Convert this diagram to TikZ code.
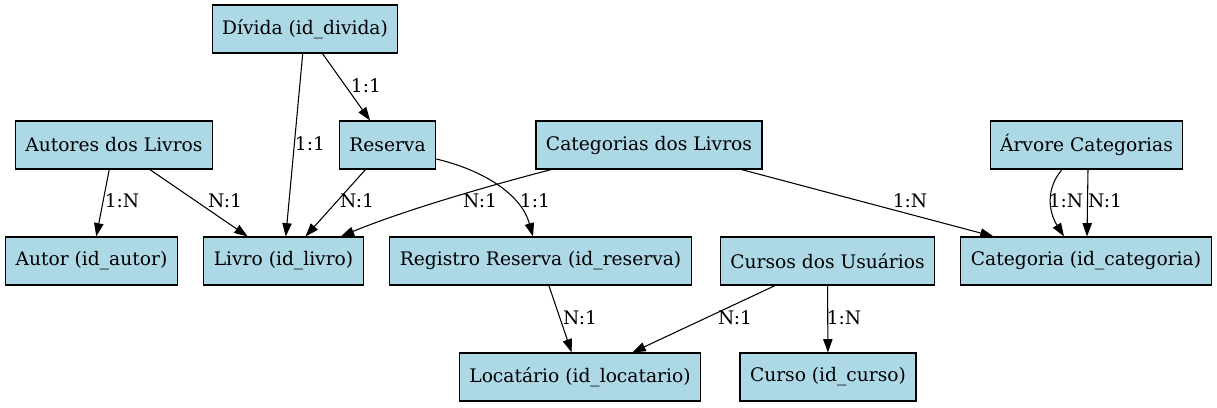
\documentclass[tikz,border=0pt]{standalone}
\usepackage{fontspec}
\setmainfont{DejaVu Serif}
\usetikzlibrary{arrows.meta,calc}
\definecolor{lightblue}{RGB}{173,216,230}
\tikzset{
  entity/.style={draw=black, line width=0.8pt, fill=lightblue, minimum height=36pt,
    inner xsep=7.5pt, inner ysep=0pt, font=\fontsize{14pt}{16pt}\selectfont},
  rel/.style={line width=0.8pt, -{Triangle[length=10pt,width=7pt]}},
  card/.style={inner sep=0.75pt, font=\fontsize{14pt}{16pt}\selectfont},
}
\begin{document}
\begin{tikzpicture}[x=0.75pt,y=0.75pt,yscale=-1]
\useasboundingbox (0,0) rectangle (1217,407);

% Entities
\node [entity] (divida) at (305,29) {Dívida (id\_divida)};
\node [entity] (autores) at (114,145) {Autores dos Livros};
\node [entity] (reserva) at (387.5,145) {Reserva};
\node [entity] (catlivros) at (649,145) {Categorias dos Livros};
\node [entity] (arvore) at (1086.5,145) {Árvore Categorias};
\node [entity] (autor) at (91.5,261) {Autor (id\_autor)};
\node [entity] (livro) at (283.5,261) {Livro (id\_livro)};
\node [entity] (registro) at (540.5,261) {Registro Reserva (id\_reserva)};
\node [entity] (cursos) at (827.5,261) {Cursos dos Usuários};
\node [entity] (categoria) at (1086,261) {Categoria (id\_categoria)};
\node [entity] (locatario) at (580,377) {Locatário (id\_locatario)};
\node [entity] (curso) at (828,377) {Curso (id\_curso)};

% Connection
\draw [rel] (divida) -- (livro);
\draw [rel] (divida) -- (reserva);
\draw [rel] (autores) -- (autor);
\draw [rel] (autores) -- (livro);
\draw [rel] (reserva) -- (livro);
\draw [rel] ($(catlivros.south west)+(16,0)$) .. controls (480,188) and (400,212) .. ($(livro.north east)+(-23,0)$);
\draw [rel] ($(reserva.east)+(0,14)$) .. controls (475,168) and (520,190) .. ($(registro.north)+(-7.5,0)$);
\draw [rel] (catlivros) -- (categoria);
\draw [rel] ($(arvore.south)+(-24.5,0)$) .. controls +(-17,20) and +(-15,-24) .. ($(categoria.north)+(-22,0)$);
\draw [rel] ($(arvore.south)+(1.5,0)$) -- ($(categoria.north)+(1,0)$);
\draw [rel] (registro) -- (locatario);
\draw [rel] (cursos) -- (locatario);
\draw [rel] (cursos) -- (curso);

% Text Node
\node [card] (c1) at (310,144) {1:1};
\node [card] (c2) at (366,86) {1:1};
\node [card] (c3) at (122,201) {1:N};
\node [card] (c4) at (225,201) {N:1};
\node [card] (c5) at (357,201) {N:1};
\node [card] (c6) at (480,201) {N:1};
\node [card] (c7) at (535,201) {1:1};
\node [card] (c8) at (910,201) {1:N};
\node [card] (c9) at (1066,201) {1:N};
\node [card] (c10) at (1105,201) {N:1};
\node [card] (c11) at (580,318) {N:1};
\node [card] (c12) at (735,318) {N:1};
\node [card] (c13) at (844,318) {1:N};

\end{tikzpicture}
\end{document}
